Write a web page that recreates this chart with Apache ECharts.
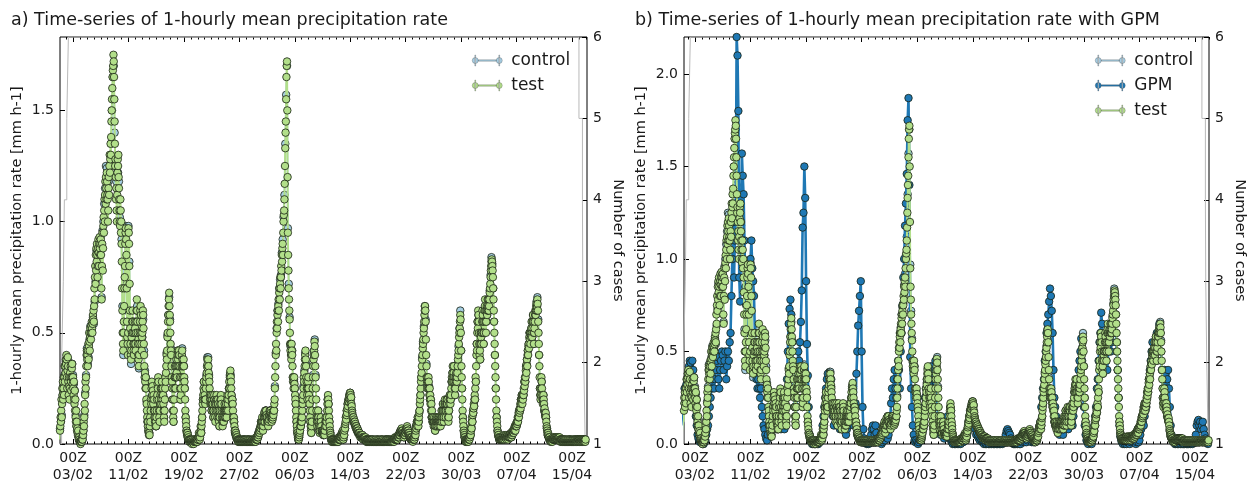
<!DOCTYPE html>
<html><head><meta charset="utf-8">
<script src="https://cdn.jsdelivr.net/npm/echarts@6/dist/echarts.min.js"></script>
<style>html,body{margin:0;padding:0;background:#fff}#c{width:1254px;height:484px}</style>
</head><body><div id="c"></div>
<script>
// Mean precipitation rate (mm h-1) from 01/02 00Z. test: hourly (24/day); control, GPM: 3-hourly (8/day)
const TEST_STEP_DAYS = 1 / 24;
const STEP_DAYS = 3 / 24;
const testRate = [
0.02,0.05,0.1,0.06,0.08,0.12,0.1,0.15,0.2,0.12,0.18,0.25,0.22,0.28,0.2,0.25,0.3,0.22,0.3,0.35,0.28,0.35,0.32,0.38,
0.36,0.4,0.38,0.3,0.25,0.33,0.39,0.35,0.28,0.22,0.3,0.26,0.2,0.25,0.32,0.3,0.35,0.28,0.24,0.3,0.34,0.36,0.3,0.27,
0.3,0.25,0.22,0.28,0.2,0.18,0.24,0.15,0.2,0.12,0.1,0.15,0.08,0.1,0.06,0.07,0.05,0.04,0.06,0.03,0.02,0.03,0.02,0.01,
0.01,0.01,0,0.01,0.01,0.02,0.01,0.02,0.03,0.02,0.05,0.04,0.06,0.1,0.08,0.12,0.18,0.15,0.22,0.28,0.25,0.3,0.35,0.4,
0.42,0.38,0.4,0.35,0.42,0.45,0.38,0.44,0.5,0.46,0.42,0.48,0.52,0.5,0.47,0.53,0.5,0.55,0.52,0.5,0.54,0.58,0.56,0.6,
0.55,0.62,0.7,0.65,0.75,0.8,0.72,0.85,0.78,0.88,0.82,0.9,0.85,0.75,0.8,0.88,0.92,0.86,0.8,0.9,0.93,0.88,0.85,0.9,
0.92,0.85,0.7,0.65,0.8,0.9,0.95,0.78,0.88,0.98,1.02,0.95,1.05,1.1,1.0,1.12,1.18,1.08,1.2,1.15,1.1,1.22,1.18,1.12,
1.1,1.0,1.05,1.15,1.2,1.12,1.25,1.3,1.22,1.28,1.35,1.3,1.38,1.45,1.5,1.55,1.6,1.65,1.68,1.7,1.75,1.72,1.65,1.55,
1.45,1.35,1.25,1.28,1.2,1.1,1.15,1.05,1.0,1.12,1.22,1.28,1.25,1.3,1.2,1.15,1.1,1.05,1.0,0.98,1.1,1.05,0.95,1.0,
0.9,0.82,0.7,0.6,0.5,0.45,0.42,0.5,0.55,0.62,0.7,0.75,0.8,0.9,0.95,0.97,0.92,0.85,0.7,0.55,0.48,0.45,0.4,0.5,
0.97,0.95,0.9,0.8,0.72,0.6,0.52,0.45,0.4,0.38,0.42,0.48,0.5,0.55,0.6,0.55,0.5,0.45,0.42,0.4,0.45,0.5,0.55,0.52,
0.45,0.42,0.5,0.55,0.6,0.65,0.6,0.55,0.5,0.45,0.4,0.38,0.35,0.4,0.45,0.5,0.55,0.6,0.62,0.58,0.5,0.45,0.42,0.48,
0.5,0.55,0.6,0.58,0.52,0.45,0.4,0.35,0.3,0.32,0.28,0.25,0.3,0.25,0.2,0.18,0.15,0.12,0.1,0.08,0.1,0.06,0.05,0.04,
0.05,0.04,0.08,0.12,0.1,0.15,0.2,0.18,0.25,0.28,0.22,0.26,0.2,0.24,0.18,0.22,0.15,0.2,0.12,0.15,0.1,0.12,0.08,0.1,
0.08,0.12,0.15,0.2,0.22,0.27,0.25,0.3,0.28,0.2,0.15,0.12,0.1,0.15,0.18,0.22,0.25,0.2,0.18,0.25,0.28,0.22,0.2,0.25,
0.22,0.18,0.15,0.12,0.1,0.15,0.2,0.25,0.3,0.28,0.32,0.35,0.4,0.38,0.42,0.48,0.5,0.55,0.58,0.62,0.65,0.68,0.62,0.58,
0.55,0.5,0.45,0.42,0.4,0.35,0.3,0.28,0.25,0.2,0.15,0.12,0.1,0.15,0.2,0.25,0.3,0.35,0.3,0.25,0.3,0.35,0.38,0.32,
0.3,0.35,0.4,0.42,0.38,0.35,0.4,0.42,0.4,0.35,0.3,0.25,0.2,0.22,0.25,0.3,0.35,0.4,0.42,0.38,0.35,0.3,0.35,0.38,
0.35,0.3,0.28,0.25,0.2,0.15,0.12,0.1,0.08,0.06,0.05,0.04,0.05,0.03,0.04,0.02,0.03,0.02,0.02,0.01,0.02,0.01,0.01,0.02,
0.01,0.01,0.02,0.01,0,0.01,0.01,0.02,0.01,0.01,0,0.01,0.02,0.01,0.01,0.02,0.01,0.01,0.02,0.01,0.02,0.01,0.01,0.02,
0.02,0.02,0.03,0.03,0.05,0.04,0.03,0.02,0.03,0.05,0.08,0.06,0.05,0.08,0.1,0.12,0.15,0.18,0.2,0.22,0.25,0.28,0.24,0.2,
0.22,0.2,0.18,0.2,0.25,0.28,0.3,0.32,0.35,0.38,0.36,0.34,0.38,0.35,0.32,0.3,0.28,0.25,0.22,0.2,0.18,0.2,0.22,0.18,
0.15,0.18,0.2,0.22,0.18,0.15,0.12,0.15,0.2,0.22,0.2,0.18,0.12,0.1,0.15,0.18,0.2,0.22,0.2,0.15,0.12,0.18,0.2,0.18,
0.15,0.12,0.1,0.08,0.12,0.15,0.18,0.2,0.22,0.2,0.18,0.15,0.12,0.1,0.08,0.1,0.12,0.15,0.1,0.12,0.15,0.18,0.15,0.12,
0.12,0.15,0.18,0.15,0.12,0.15,0.2,0.22,0.18,0.15,0.2,0.22,0.25,0.28,0.25,0.3,0.32,0.33,0.3,0.28,0.25,0.22,0.2,0.18,
0.2,0.18,0.15,0.12,0.1,0.12,0.1,0.08,0.06,0.05,0.06,0.04,0.05,0.03,0.04,0.03,0.02,0.03,0.02,0.02,0.01,0.02,0.01,0.02,
0.01,0.02,0.01,0.01,0.02,0.01,0.01,0.01,0.02,0.01,0.01,0.02,0.01,0.01,0.01,0.02,0.01,0.01,0.02,0.01,0.01,0.01,0.02,0.01,
0.01,0.01,0.02,0.01,0.01,0.01,0.02,0.02,0.01,0.01,0.01,0.02,0.01,0.01,0.02,0.01,0.01,0.01,0.01,0.02,0.01,0.01,0.02,0.01,
0.01,0.01,0.02,0.01,0.02,0.02,0.01,0.02,0.01,0.02,0.03,0.02,0.02,0.03,0.02,0.03,0.04,0.03,0.05,0.04,0.05,0.06,0.05,0.07,
0.06,0.08,0.07,0.1,0.09,0.08,0.1,0.12,0.1,0.08,0.06,0.08,0.1,0.12,0.14,0.12,0.1,0.13,0.15,0.12,0.14,0.15,0.13,0.12,
0.12,0.1,0.09,0.1,0.08,0.1,0.12,0.11,0.13,0.15,0.14,0.12,0.15,0.14,0.13,0.12,0.1,0.12,0.13,0.11,0.12,0.14,0.13,0.15,
0.15,0.18,0.2,0.25,0.3,0.35,0.4,0.45,0.42,0.5,0.55,0.52,0.58,0.6,0.55,0.62,0.65,0.6,0.68,0.7,0.65,0.72,0.75,0.7,
0.75,0.8,0.78,0.85,0.82,0.88,0.9,0.85,0.95,1.0,1.03,1.05,1.1,1.17,1.25,1.33,1.4,1.45,1.55,1.65,1.7,1.72,1.5,1.2,
0.95,0.85,0.78,0.7,0.65,0.6,0.56,0.5,0.45,0.42,0.45,0.4,0.38,0.45,0.42,0.4,0.35,0.3,0.28,0.3,0.25,0.28,0.3,0.27,
0.25,0.22,0.2,0.18,0.15,0.12,0.1,0.08,0.06,0.05,0.04,0.03,0.02,0.03,0.02,0.03,0.04,0.05,0.06,0.08,0.1,0.08,0.1,0.12,
0.1,0.12,0.15,0.18,0.2,0.22,0.25,0.3,0.28,0.32,0.35,0.38,0.4,0.42,0.38,0.35,0.3,0.28,0.25,0.22,0.2,0.25,0.28,0.3,
0.25,0.22,0.2,0.18,0.15,0.12,0.1,0.08,0.06,0.05,0.08,0.1,0.15,0.2,0.25,0.3,0.35,0.38,0.4,0.42,0.46,0.44,0.4,0.35,
0.3,0.25,0.2,0.15,0.12,0.1,0.08,0.1,0.12,0.15,0.12,0.1,0.08,0.06,0.05,0.06,0.08,0.1,0.12,0.1,0.08,0.06,0.05,0.06,
0.05,0.06,0.05,0.04,0.05,0.06,0.05,0.04,0.06,0.08,0.1,0.12,0.1,0.08,0.1,0.12,0.15,0.18,0.2,0.22,0.2,0.18,0.15,0.12,
0.1,0.08,0.06,0.05,0.04,0.03,0.02,0.02,0.01,0.02,0.01,0.02,0.01,0.01,0.02,0.01,0.02,0.01,0.01,0.02,0.01,0.01,0.02,0.01,
0.01,0.02,0.01,0.01,0.02,0.02,0.01,0.02,0.02,0.03,0.02,0.02,0.03,0.02,0.03,0.03,0.04,0.03,0.04,0.05,0.04,0.05,0.06,0.05,
0.02,0.03,0.05,0.04,0.06,0.08,0.07,0.09,0.1,0.12,0.11,0.13,0.15,0.14,0.16,0.18,0.17,0.19,0.2,0.19,0.21,0.22,0.2,0.23,
0.23,0.22,0.2,0.21,0.18,0.17,0.15,0.14,0.13,0.12,0.11,0.12,0.1,0.11,0.1,0.09,0.1,0.08,0.09,0.08,0.07,0.08,0.07,0.06,
0.06,0.07,0.06,0.05,0.06,0.05,0.05,0.04,0.05,0.04,0.04,0.03,0.04,0.04,0.03,0.04,0.03,0.03,0.04,0.03,0.03,0.02,0.03,0.03,
0.03,0.02,0.03,0.02,0.02,0.03,0.02,0.02,0.02,0.01,0.02,0.02,0.01,0.02,0.01,0.01,0.02,0.01,0.01,0.02,0.01,0.01,0.01,0.02,
0.01,0.01,0.02,0.01,0.01,0.01,0.02,0.01,0.01,0.01,0.01,0.02,0.01,0.01,0.01,0.01,0.02,0.01,0.01,0.01,0.01,0.02,0.01,0.01,
0.01,0.02,0.01,0.01,0.01,0.02,0.01,0.01,0.01,0.01,0.02,0.01,0.01,0.01,0.02,0.01,0.01,0.02,0.01,0.01,0.01,0.01,0.02,0.01,
0.01,0.01,0.01,0.02,0.01,0.01,0.02,0.01,0.01,0.01,0.02,0.01,0.02,0.01,0.01,0.01,0.02,0.01,0.01,0.02,0.01,0.01,0.01,0.02,
0.01,0.02,0.01,0.02,0.02,0.01,0.02,0.02,0.01,0.02,0.02,0.03,0.02,0.02,0.03,0.02,0.03,0.02,0.03,0.03,0.02,0.03,0.04,0.03,
0.03,0.04,0.04,0.05,0.04,0.05,0.06,0.05,0.06,0.05,0.07,0.06,0.05,0.06,0.05,0.04,0.05,0.04,0.03,0.04,0.05,0.04,0.05,0.06,
0.05,0.06,0.07,0.06,0.07,0.08,0.07,0.06,0.05,0.06,0.05,0.04,0.05,0.04,0.03,0.04,0.03,0.02,0.03,0.02,0.02,0.03,0.02,0.02,
0.02,0.01,0.02,0.02,0.03,0.02,0.02,0.03,0.04,0.05,0.04,0.06,0.08,0.07,0.09,0.1,0.08,0.1,0.12,0.1,0.08,0.1,0.12,0.14,
0.15,0.18,0.2,0.22,0.25,0.28,0.3,0.32,0.35,0.38,0.4,0.43,0.45,0.47,0.5,0.52,0.55,0.58,0.6,0.62,0.6,0.55,0.47,0.4,
0.35,0.3,0.28,0.25,0.3,0.28,0.25,0.3,0.28,0.25,0.22,0.25,0.2,0.22,0.18,0.2,0.15,0.18,0.12,0.15,0.12,0.1,0.12,0.1,
0.1,0.08,0.1,0.12,0.1,0.08,0.06,0.08,0.1,0.12,0.1,0.08,0.1,0.12,0.1,0.08,0.1,0.12,0.1,0.12,0.1,0.08,0.1,0.12,
0.1,0.08,0.1,0.12,0.15,0.12,0.1,0.12,0.15,0.18,0.15,0.12,0.1,0.12,0.15,0.18,0.2,0.18,0.15,0.12,0.15,0.18,0.2,0.18,
0.18,0.2,0.15,0.12,0.1,0.12,0.15,0.18,0.2,0.22,0.2,0.18,0.2,0.22,0.25,0.28,0.3,0.28,0.32,0.35,0.3,0.28,0.32,0.35,
0.3,0.28,0.25,0.22,0.25,0.3,0.28,0.32,0.3,0.28,0.3,0.32,0.35,0.38,0.4,0.42,0.45,0.48,0.5,0.52,0.55,0.58,0.56,0.5,
0.42,0.35,0.3,0.25,0.2,0.15,0.12,0.1,0.08,0.06,0.05,0.04,0.03,0.03,0.02,0.02,0.01,0.02,0.01,0.02,0.01,0.02,0.02,0.01,
0.02,0.01,0.02,0.02,0.03,0.02,0.03,0.04,0.05,0.04,0.06,0.08,0.07,0.1,0.12,0.1,0.13,0.15,0.14,0.16,0.18,0.17,0.2,0.22,
0.2,0.25,0.3,0.28,0.35,0.4,0.45,0.42,0.5,0.55,0.52,0.6,0.58,0.55,0.5,0.45,0.4,0.42,0.38,0.45,0.5,0.48,0.45,0.5,
0.5,0.55,0.6,0.58,0.55,0.5,0.45,0.5,0.55,0.6,0.62,0.65,0.6,0.55,0.5,0.55,0.6,0.62,0.58,0.6,0.65,0.62,0.6,0.65,
0.6,0.62,0.65,0.68,0.7,0.72,0.75,0.78,0.8,0.82,0.83,0.82,0.8,0.78,0.75,0.7,0.65,0.6,0.55,0.5,0.45,0.4,0.35,0.3,
0.25,0.2,0.15,0.12,0.1,0.08,0.06,0.05,0.04,0.04,0.03,0.03,0.02,0.03,0.02,0.02,0.03,0.02,0.02,0.03,0.02,0.02,0.03,0.02,
0.02,0.03,0.02,0.03,0.04,0.03,0.02,0.03,0.04,0.03,0.03,0.04,0.03,0.02,0.03,0.04,0.03,0.04,0.03,0.02,0.03,0.04,0.03,0.04,
0.03,0.04,0.03,0.04,0.05,0.04,0.03,0.04,0.05,0.04,0.05,0.06,0.05,0.06,0.05,0.06,0.07,0.06,0.08,0.07,0.06,0.08,0.09,0.08,
0.08,0.1,0.09,0.1,0.12,0.1,0.12,0.14,0.12,0.15,0.14,0.16,0.15,0.18,0.16,0.2,0.18,0.2,0.22,0.2,0.18,0.22,0.2,0.22,
0.22,0.25,0.24,0.28,0.26,0.3,0.28,0.3,0.33,0.35,0.32,0.36,0.38,0.35,0.4,0.42,0.4,0.44,0.45,0.43,0.48,0.5,0.47,0.5,
0.45,0.5,0.48,0.52,0.55,0.5,0.48,0.52,0.55,0.58,0.55,0.5,0.45,0.5,0.52,0.55,0.58,0.6,0.58,0.6,0.62,0.63,0.6,0.62,
0.65,0.63,0.6,0.55,0.5,0.45,0.4,0.35,0.3,0.25,0.22,0.2,0.22,0.25,0.3,0.28,0.25,0.22,0.2,0.18,0.2,0.22,0.2,0.18,
0.15,0.16,0.14,0.13,0.12,0.14,0.12,0.1,0.08,0.07,0.06,0.05,0.04,0.05,0.04,0.03,0.03,0.02,0.03,0.02,0.02,0.02,0.01,0.02,
0.02,0.01,0.02,0.02,0.01,0.02,0.02,0.03,0.02,0.02,0.03,0.02,0.03,0.02,0.02,0.03,0.02,0.03,0.03,0.02,0.03,0.02,0.02,0.03,
0.03,0.02,0.03,0.02,0.02,0.03,0.02,0.02,0.01,0.02,0.02,0.01,0.02,0.02,0.01,0.02,0.01,0.01,0.02,0.01,0.02,0.01,0.01,0.02,
0.01,0.02,0.01,0.01,0.02,0.01,0.01,0.01,0.02,0.01,0.01,0.02,0.01,0.01,0.01,0.02,0.01,0.01,0.02,0.01,0.01,0.01,0.02,0.01,
0.01,0.01,0.02,0.01,0.01,0.02,0.01,0.01,0.01,0.02,0.01,0.01,0.02,0.01,0.01,0.01,0.02,0.01,0.02,0.02,0.01,0.02,0.01,0.02,
0.02,0.01,0.02,0.01,0.01,0.02,0.02,0.01,0.02,0.01,0.02,0.02,0.01,0.02,0.01,0.02,0.02,0.01,0.02,0.01,0.02,0.02,0.01,0.02
];
const controlRate = [
0.03,0.07,0.1,0.13,0.22,0.26,0.31,0.35,
0.37,0.31,0.38,0.24,0.21,0.3,0.25,0.36,
0.31,0.27,0.24,0.13,0.08,0.07,0.06,0.03,
0.01,0.01,0.01,0.02,0.06,0.13,0.23,0.31,
0.43,0.36,0.39,0.47,0.53,0.52,0.53,0.57,
0.54,0.64,0.73,0.87,0.86,0.87,0.8,0.89,
0.93,0.66,0.96,1.0,1.08,1.15,1.25,1.24,
1.12,1.18,1.22,1.25,1.35,1.5,1.65,1.7,
1.4,1.25,1.18,1.15,1.22,1.18,1.02,1.0,
0.92,0.62,0.4,0.6,0.78,0.98,0.72,0.43,
0.98,0.82,0.5,0.36,0.48,0.55,0.4,0.48,
0.44,0.53,0.62,0.43,0.34,0.48,0.6,0.44,
0.48,0.56,0.42,0.33,0.3,0.19,0.1,0.06,
0.05,0.12,0.21,0.27,0.2,0.22,0.13,0.12,
0.08,0.2,0.26,0.2,0.1,0.22,0.18,0.23,
0.22,0.12,0.2,0.29,0.41,0.49,0.58,0.66,
0.56,0.43,0.3,0.2,0.1,0.25,0.31,0.36,
0.31,0.42,0.41,0.36,0.2,0.3,0.43,0.3,
0.35,0.25,0.12,0.06,0.05,0.02,0.02,0.01,
0.01,0.01,0.01,0.01,0.02,0.02,0.02,0.01,
0.02,0.03,0.03,0.05,0.05,0.12,0.2,0.28,
0.23,0.21,0.31,0.39,0.39,0.31,0.22,0.2,
0.15,0.22,0.12,0.22,0.12,0.18,0.2,0.18,
0.15,0.08,0.18,0.21,0.12,0.1,0.1,0.18,
0.12,0.15,0.2,0.15,0.25,0.31,0.31,0.22,
0.2,0.12,0.1,0.05,0.05,0.03,0.02,0.02,
0.01,0.01,0.01,0.01,0.01,0.02,0.02,0.01,
0.01,0.01,0.02,0.01,0.01,0.01,0.01,0.01,
0.01,0.01,0.01,0.02,0.02,0.03,0.05,0.06,
0.06,0.1,0.1,0.08,0.1,0.12,0.15,0.15,
0.12,0.1,0.12,0.15,0.15,0.12,0.13,0.14,
0.15,0.26,0.41,0.52,0.6,0.63,0.7,0.74,
0.76,0.86,0.92,1.02,1.12,1.35,1.57,1.7,
0.97,0.72,0.57,0.44,0.4,0.42,0.3,0.29,
0.25,0.18,0.1,0.05,0.02,0.03,0.06,0.08,
0.1,0.18,0.26,0.33,0.41,0.36,0.25,0.25,
0.25,0.18,0.1,0.05,0.15,0.31,0.42,0.47,
0.31,0.15,0.08,0.15,0.08,0.06,0.12,0.06,
0.05,0.04,0.05,0.08,0.1,0.12,0.2,0.18,
0.1,0.05,0.02,0.02,0.01,0.01,0.01,0.01,
0.01,0.01,0.01,0.03,0.03,0.03,0.04,0.05,
0.02,0.04,0.07,0.12,0.15,0.18,0.2,0.22,
0.23,0.21,0.15,0.12,0.1,0.09,0.09,0.08,
0.06,0.05,0.05,0.04,0.04,0.04,0.04,0.02,
0.03,0.02,0.02,0.01,0.01,0.01,0.01,0.02,
0.01,0.01,0.02,0.01,0.01,0.01,0.01,0.02,
0.01,0.01,0.01,0.01,0.02,0.01,0.01,0.01,
0.01,0.02,0.02,0.01,0.02,0.01,0.01,0.01,
0.01,0.02,0.02,0.02,0.02,0.02,0.03,0.03,
0.03,0.05,0.06,0.05,0.05,0.04,0.03,0.04,
0.05,0.06,0.07,0.06,0.05,0.04,0.03,0.03,
0.02,0.02,0.02,0.05,0.08,0.1,0.12,0.1,
0.15,0.22,0.3,0.39,0.46,0.53,0.62,0.56,
0.36,0.26,0.25,0.26,0.2,0.2,0.12,0.1,
0.1,0.12,0.06,0.12,0.1,0.08,0.1,0.08,
0.1,0.12,0.1,0.18,0.1,0.18,0.15,0.18,
0.18,0.12,0.15,0.22,0.2,0.28,0.32,0.28,
0.3,0.22,0.28,0.29,0.36,0.44,0.52,0.6,
0.42,0.25,0.12,0.06,0.03,0.02,0.01,0.02,
0.02,0.02,0.03,0.04,0.07,0.1,0.14,0.17,
0.2,0.28,0.45,0.55,0.58,0.45,0.38,0.48,
0.5,0.58,0.45,0.6,0.6,0.55,0.58,0.62,
0.6,0.69,0.76,0.84,0.81,0.7,0.55,0.4,
0.25,0.12,0.06,0.04,0.02,0.02,0.02,0.02,
0.02,0.03,0.02,0.03,0.03,0.04,0.03,0.04,
0.03,0.04,0.03,0.04,0.05,0.06,0.08,0.08,
0.08,0.1,0.12,0.15,0.15,0.2,0.22,0.22,
0.22,0.28,0.28,0.35,0.38,0.42,0.45,0.5,
0.45,0.52,0.48,0.58,0.45,0.55,0.59,0.64,
0.66,0.56,0.4,0.25,0.22,0.28,0.2,0.22,
0.15,0.13,0.12,0.07,0.04,0.03,0.03,0.02,
0.02,0.02,0.02,0.02,0.03,0.03,0.03,0.02,
0.03,0.02,0.02,0.02,0.02,0.02,0.02,0.01,
0.01,0.01,0.01,0.01,0.01,0.02,0.02,0.01,
0.01,0.01,0.01,0.02,0.02,0.01,0.02,0.02,
0.02,0.01,0.02,0.01,0.01,0.02,0.02,0.02
];
const gpmRate = [
0.1,0.15,0.2,0.25,0.3,0.28,0.32,0.35,
0.38,0.42,0.45,0.44,0.4,0.45,0.4,0.3,
0.25,0.15,0.1,0.05,0.03,0.02,0.01,0.01,
0.01,0,0,0.01,0.02,0.05,0.08,0.1,
0.15,0.2,0.25,0.3,0.35,0.4,0.3,0.35,
0.4,0.45,0.47,0.35,0.3,0.4,0.45,0.5,
0.48,0.4,0.45,0.5,0.35,0.42,0.5,0.45,
0.55,0.6,0.8,1.0,1.2,0.9,1.1,1.3,
2.2,2.1,1.8,0.9,0.77,1.2,1.57,1.45,
1.35,1.1,0.85,0.75,0.6,0.7,0.8,0.9,
1.0,1.1,0.95,0.88,0.8,0.6,0.45,0.35,
0.3,0.35,0.3,0.25,0.3,0.2,0.15,0.1,
0.08,0.05,0.03,0.02,0.05,0.1,0.15,0.12,
0.1,0.15,0.2,0.18,0.12,0.1,0.08,0.1,
0.12,0.15,0.1,0.08,0.12,0.15,0.1,0.08,
0.1,0.2,0.35,0.5,0.65,0.73,0.78,0.7,
0.55,0.4,0.3,0.2,0.15,0.2,0.35,0.5,
0.45,0.55,0.66,0.83,1.17,1.25,1.5,1.33,
0.88,0.54,0.37,0.2,0.05,0.02,0.01,0,
0,0.01,0,0,0.01,0,0,0.01,
0.01,0.02,0.05,0.1,0.15,0.2,0.25,0.3,
0.35,0.38,0.3,0.25,0.3,0.35,0.2,0.15,
0.1,0.15,0.2,0.15,0.1,0.12,0.1,0.08,
0.1,0.08,0.1,0.12,0.1,0.08,0.05,0.08,
0.1,0.12,0.15,0.2,0.22,0.18,0.12,0.1,
0.15,0.22,0.38,0.5,0.64,0.72,0.8,0.88,
0.5,0.2,0.08,0.03,0.02,0.01,0,0.01,
0,0.01,0.02,0.05,0.08,0.1,0.08,0.05,
0.1,0.06,0.03,0.02,0.01,0.02,0.01,0,
0.01,0.02,0.03,0.02,0.04,0.05,0.03,0.05,
0.08,0.15,0.22,0.3,0.25,0.35,0.4,0.3,
0.25,0.35,0.45,0.4,0.3,0.5,0.6,0.75,
0.9,1.0,1.18,1.3,1.46,1.75,1.87,1.4,
0.47,0.3,0.2,0.1,0.05,0.02,0.01,0.02,
0.01,0,0.01,0.02,0.05,0.08,0.1,0.15,
0.2,0.25,0.3,0.35,0.3,0.28,0.32,0.4,
0.42,0.35,0.3,0.38,0.4,0.45,0.35,0.25,
0.15,0.1,0.08,0.05,0.06,0.08,0.05,0.03,
0.05,0.08,0.12,0.15,0.1,0.05,0.03,0.02,
0.01,0,0.01,0,0,0.01,0,0.01,
0,0.01,0,0.01,0.02,0.01,0.02,0.03,
0.02,0.04,0.06,0.1,0.12,0.15,0.18,0.2,
0.18,0.15,0.1,0.08,0.05,0.06,0.04,0.03,
0.02,0.03,0.02,0.01,0.01,0,0.01,0,
0,0.01,0,0,0.01,0,0,0.01,
0,0,0.01,0,0,0,0.01,0,
0,0.01,0,0.01,0.02,0.03,0.05,0.07,
0.08,0.07,0.06,0.05,0.03,0.02,0.01,0,
0,0,0.01,0,0,0.01,0,0,
0.01,0.02,0.03,0.02,0.01,0.02,0.01,0.02,
0.03,0.04,0.03,0.02,0.01,0.02,0.01,0.01,
0.01,0.02,0.03,0.05,0.08,0.1,0.12,0.2,
0.25,0.3,0.35,0.45,0.5,0.6,0.65,0.7,
0.77,0.84,0.8,0.72,0.6,0.4,0.25,0.2,
0.15,0.1,0.12,0.08,0.05,0.1,0.12,0.08,
0.05,0.08,0.1,0.12,0.15,0.1,0.08,0.1,
0.12,0.15,0.12,0.1,0.15,0.2,0.25,0.3,
0.3,0.35,0.4,0.45,0.5,0.57,0.45,0.3,
0.2,0.1,0.05,0.02,0.01,0,0.01,0.02,
0.01,0,0.02,0.05,0.1,0.15,0.2,0.3,
0.35,0.45,0.55,0.6,0.71,0.65,0.5,0.4,
0.45,0.5,0.55,0.4,0.5,0.6,0.55,0.5,
0.55,0.6,0.7,0.78,0.75,0.6,0.5,0.4,
0.25,0.1,0.04,0.02,0.01,0,0.01,0,
0.01,0,0.01,0.02,0.01,0,0.01,0.02,
0.02,0.01,0.02,0.01,0,0.01,0.02,0.01,
0.02,0.05,0.08,0.1,0.12,0.1,0.15,0.18,
0.2,0.25,0.3,0.35,0.4,0.45,0.5,0.55,
0.45,0.5,0.55,0.5,0.6,0.55,0.6,0.65,
0.6,0.5,0.4,0.3,0.35,0.4,0.38,0.3,
0.35,0.4,0.3,0.2,0.1,0.05,0.02,0.01,
0.01,0,0,0.01,0,0,0.01,0,
0,0.01,0,0,0,0.01,0,0,
0,0,0.01,0,0.01,0,0.02,0.01,
0.02,0.05,0.1,0.12,0.13,0.1,0.12,0.08,
0.1,0.12,0.08,0.05,0.03,0.02,0.01,0
];
// Number of cases (step line), day offset from 01/02 00Z
const casesDay   = [0, 0.35, 0.6, 0.75, 1.1, 1.33, 75.0, 75.5, 75.55, 75.7, 75.9, 76.3];
const casesCount = [1, 2, 3, 4, 5, 6, 5, 4, 3, 2, 1, 1];
// x-axis ticks (day offsets from 01/02 00Z) and labels
const tickDays = [2, 10, 18, 26, 34, 42, 50, 58, 66, 74];
const tickLabels = ['03/02','11/02','19/02','27/02','06/03','14/03','22/03','30/03','07/04','15/04'];
const yTicksA = [0, 0.5, 1.0, 1.5];
const yTicksB = [0, 0.5, 1.0, 1.5, 2.0];

const minorDays = [];
for (let d = 0; d <= 76; d++) minorDays.push(d);

const FONT = 'DejaVu Sans';
const TXT = '#1a1a1a';
const C_CONTROL = '#a6cee3', C_GPM = '#1f78b4', C_TEST = '#b2df8a';
const EDGE = 'rgba(25,35,20,0.9)';
const LEG_ICON = 'path://M0,7a3,3 0 1,0 6,0a3,3 0 1,0 -6,0zM24,7a3,3 0 1,0 6,0a3,3 0 1,0 -6,0zM6,6.3h18v1.4h-18zM2.6,1.5h0.8v11h-0.8zM26.6,1.5h0.8v11h-0.8z';

function pairs(arr, step) { return arr.map((v, i) => [i * step, v]); }
function casePairs() { return casesDay.map((d, i) => [d, casesCount[i]]); }

const panels = [
  { left: 60, width: 527, xmin: 0.12, xmax: 76.16, ymax: 1.83, yTicks: yTicksA },
  { left: 684, width: 525, xmin: 0.42, xmax: 76.02, ymax: 2.2, yTicks: yTicksB }
];

const grid = [], xAxis = [], yAxis = [], series = [];
panels.forEach((p, k) => {
  grid.push({ left: p.left, top: 37, width: p.width, height: 408, show: true,
    borderColor: '#000', borderWidth: 1, backgroundColor: 'transparent' });
  const base = { gridIndex: k, type: 'value', min: p.xmin, max: p.xmax,
    splitLine: { show: false }, axisLine: { show: false } };
  xAxis.push(Object.assign({}, base, { position: 'bottom',
    axisTick: { show: true, inside: true, length: 5, customValues: tickDays, lineStyle: { color: '#000' } },
    axisLabel: { show: true, customValues: tickDays, margin: 6, fontSize: 14, lineHeight: 17, color: TXT, fontFamily: FONT,
      formatter: v => '00Z\n' + tickLabels[tickDays.indexOf(Math.round(v))] } }));
  xAxis.push(Object.assign({}, base, { position: 'bottom',
    axisTick: { show: true, inside: true, length: 2.5, customValues: minorDays, lineStyle: { color: '#000' } },
    axisLabel: { show: false } }));
  xAxis.push(Object.assign({}, base, { position: 'top',
    axisTick: { show: true, inside: true, length: 5, customValues: tickDays, lineStyle: { color: '#000' } },
    axisLabel: { show: false } }));
  xAxis.push(Object.assign({}, base, { position: 'top',
    axisTick: { show: true, inside: true, length: 2.5, customValues: minorDays, lineStyle: { color: '#000' } },
    axisLabel: { show: false } }));
  yAxis.push({ gridIndex: k, type: 'value', min: 0, max: p.ymax, position: 'left',
    splitLine: { show: false }, axisLine: { show: false },
    axisTick: { show: true, inside: true, length: 5, customValues: p.yTicks, lineStyle: { color: '#000' } },
    axisLabel: { customValues: p.yTicks, formatter: v => v.toFixed(1), fontSize: 14, margin: 6, color: TXT, fontFamily: FONT },
    name: '1-hourly mean precipitation rate [mm h-1]', nameLocation: 'middle', nameGap: 35,
    nameTextStyle: { fontSize: 14.5, color: TXT, fontFamily: FONT } });
  yAxis.push({ gridIndex: k, type: 'value', min: 1, max: 6, interval: 1, position: 'right',
    splitLine: { show: false }, axisLine: { show: false },
    axisTick: { show: true, inside: true, length: 5, lineStyle: { color: '#000' } },
    axisLabel: { fontSize: 14, margin: 6, color: TXT, fontFamily: FONT },
    name: 'Number of cases', nameLocation: 'middle', nameRotate: -90, nameGap: 23,
    nameTextStyle: { fontSize: 14.5, color: TXT, fontFamily: FONT } });

  const xi = k * 4, yi = k * 2;
  series.push({ type: 'line', name: 'cases', xAxisIndex: xi, yAxisIndex: yi + 1, data: casePairs(),
    step: 'end', showSymbol: false, lineStyle: { color: '#b8b8b8', width: 1 }, z: 1, silent: true });
  const mk = (name, arr, step, col, lw, z) => ({
    type: 'line', name, xAxisIndex: xi, yAxisIndex: yi, data: pairs(arr, step),
    symbol: 'circle', symbolSize: 7.5, showSymbol: true, showAllSymbol: true,
    lineStyle: { color: col, width: lw }, itemStyle: { color: col, borderColor: EDGE, borderWidth: 0.9 },
    emphasis: { disabled: true }, z, silent: true });
  series.push(mk('control', controlRate, STEP_DAYS, C_CONTROL, 1.8, 2));
  if (k === 1) series.push(mk('GPM', gpmRate, STEP_DAYS, C_GPM, 2.6, 3));
  series.push(mk('test', testRate, TEST_STEP_DAYS, C_TEST, 2, 4));
});

const legItem = (name, col) => ({ name, icon: LEG_ICON,
  itemStyle: { color: col, borderColor: 'rgba(70,70,70,0.6)', borderWidth: 0.5 } });
const legText = { fontSize: 17, lineHeight: 14, color: TXT, fontFamily: FONT, padding: [0, 0, 0, 4] };

const option = {
  animation: false,
  textStyle: { fontFamily: FONT },
  title: [
    { text: 'a) Time-series of 1-hourly mean precipitation rate', left: 6, top: 6,
      textStyle: { fontSize: 17.5, fontWeight: 'normal', color: TXT, fontFamily: FONT } },
    { text: 'b) Time-series of 1-hourly mean precipitation rate with GPM', left: 630, top: 6,
      textStyle: { fontSize: 17.5, fontWeight: 'normal', color: TXT, fontFamily: FONT } }
  ],
  legend: [
    { orient: 'vertical', left: 467, top: 47, itemWidth: 30, itemHeight: 14, itemGap: 8,
      data: [legItem('control', C_CONTROL), legItem('test', C_TEST)], textStyle: legText, selectedMode: false },
    { orient: 'vertical', left: 1090, top: 47, itemWidth: 30, itemHeight: 14, itemGap: 8,
      data: [legItem('control', C_CONTROL), legItem('GPM', C_GPM), legItem('test', C_TEST)], textStyle: legText, selectedMode: false }
  ],
  grid, xAxis, yAxis, series
};
const chart = echarts.init(document.getElementById('c'), null, { renderer: 'canvas' });
chart.setOption(option);
</script></body></html>
